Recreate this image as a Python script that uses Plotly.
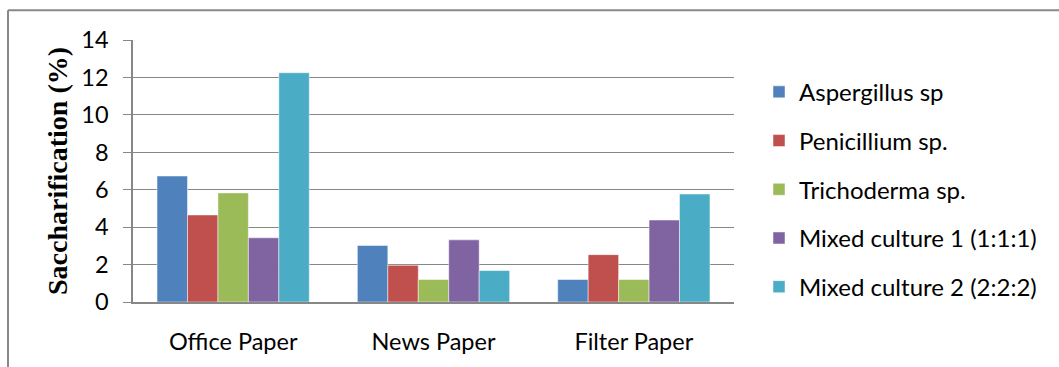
import plotly.graph_objects as go

categories = ["Office Paper", "News Paper", "Filter Paper"]
series_names = ["Aspergillus sp", "Penicillium sp.", "Trichoderma sp.",
                "Mixed culture 1 (1:1:1)", "Mixed culture 2 (2:2:2)"]
aspergillus = [6.73, 3.02, 1.2]
penicillium = [4.65, 1.96, 2.53]
trichoderma = [5.83, 1.2, 1.2]
mixed1 = [3.43, 3.32, 4.38]
mixed2 = [12.25, 1.68, 5.77]
colors = ["#4F81BD", "#C0504D", "#9BBB59", "#8064A2", "#4BACC6"]
y_ticks = [0, 2, 4, 6, 8, 10, 12, 14]

W, H = 1059, 367
L, R, T, B = 133, 734, 40, 304
pw, ph = R - L, B - T

def px(x):
    return (x - L) / pw

def py(y):
    return (B - y) / ph

fig = go.Figure()
for i, (name, vals) in enumerate(zip(series_names,
                                     [aspergillus, penicillium, trichoderma, mixed1, mixed2])):
    fig.add_trace(go.Bar(
        x=categories, y=vals, name=name,
        marker=dict(color=colors[i], line=dict(color="rgba(255,255,255,0.6)", width=0.8)),
        legendgroup=f"g{i}",
    ))

grid_col = "#878787"
fs = 23.5
fig.update_layout(
    width=W, height=H,
    margin=dict(l=L, r=W - R, t=T, b=H - B, pad=0),
    paper_bgcolor="white", plot_bgcolor="white",
    barmode="group", bargap=0.24, bargroupgap=0,
    font=dict(family="Lato", size=fs, color="#000000"),
    showlegend=True,
    legend=dict(x=px(759), y=py(70), xanchor="left", yanchor="top",
                font=dict(family="Lato", size=24, color="#000000"),
                tracegroupgap=14.5, bgcolor="rgba(0,0,0,0)"),
    xaxis=dict(showgrid=False, showline=True, linecolor=grid_col, linewidth=1.5,
               ticks="", ticklabelstandoff=18, tickfont=dict(size=fs)),
    yaxis=dict(range=[0, 14], tickvals=y_ticks, showgrid=True, gridcolor=grid_col,
               gridwidth=1.3, showline=True, linecolor=grid_col, linewidth=1.5,
               ticks="outside", ticklen=8, tickcolor=grid_col, tickwidth=1.3,
               ticklabelstandoff=10, zeroline=False, tickfont=dict(size=fs),
               title=dict(text="Saccharification (%)", standoff=5,
                          font=dict(family="Liberation Serif", size=28, color="#000000",
                                    weight="bold"))),
    shapes=[
        dict(type="line", xref="paper", yref="paper", x0=px(8), y0=py(10), x1=px(1062), y1=py(10),
             line=dict(color="#898989", width=2)),
        dict(type="line", xref="paper", yref="paper", x0=px(8), y0=py(10), x1=px(8), y1=py(370),
             line=dict(color="#898989", width=2)),
    ],
)

fig.write_html("out.html")
